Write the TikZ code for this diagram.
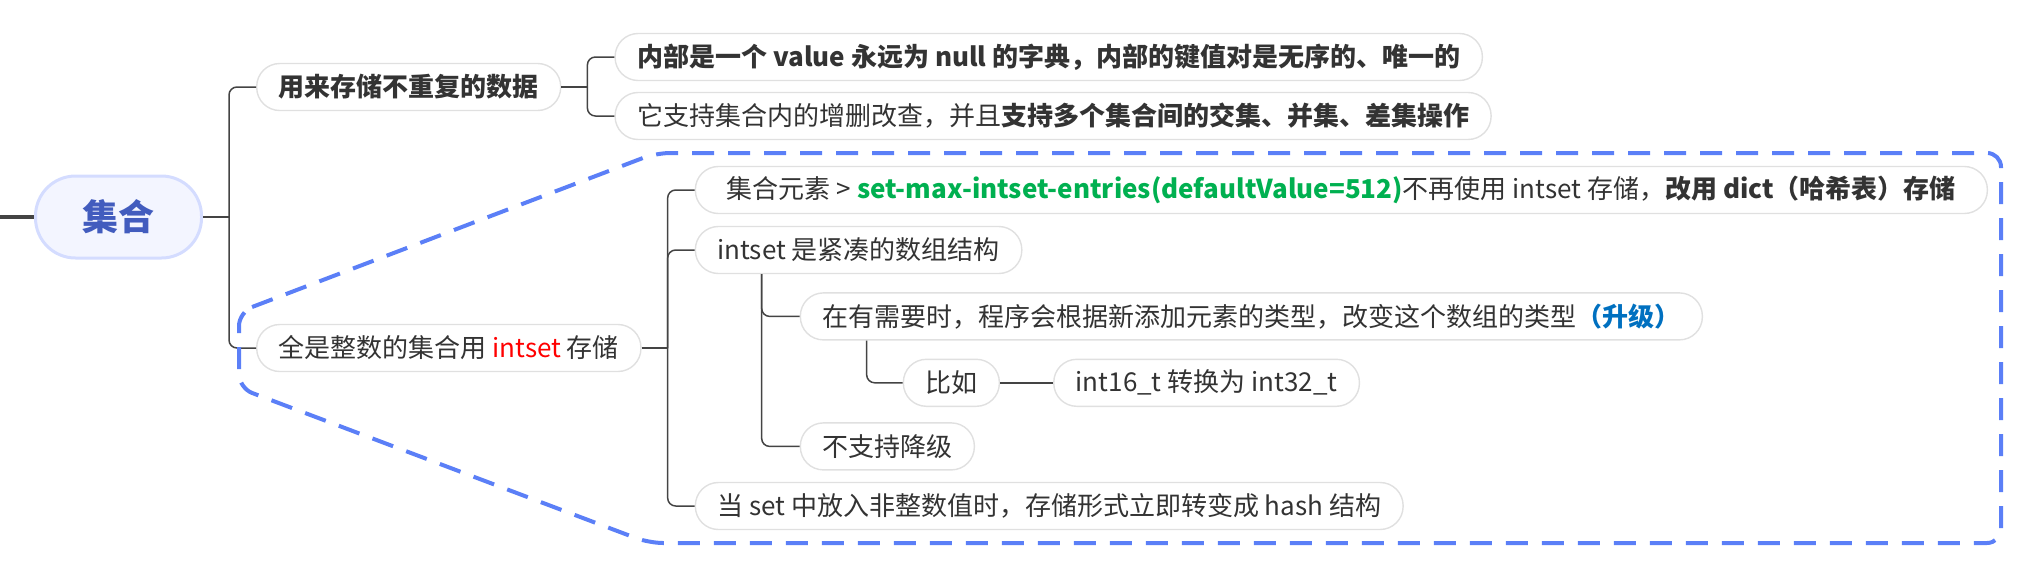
\documentclass[tikz,border=0pt]{standalone}
\usepackage{fontspec}
\setmainfont{Noto Sans CJK SC}
\usepackage{xcolor}
\usepackage{tikz}
\usetikzlibrary{positioning,calc}
\definecolor{rootblue}{RGB}{66,92,190}
\definecolor{rootfill}{RGB}{243,245,255}
\definecolor{rootline}{RGB}{212,220,255}
\definecolor{boxline}{RGB}{224,224,224}
\definecolor{linkgray}{RGB}{68,68,68}
\definecolor{txtgray}{RGB}{51,51,51}
\definecolor{hullblue}{RGB}{91,127,247}
\definecolor{keyred}{RGB}{255,0,0}
\definecolor{keygreen}{RGB}{0,176,80}
\definecolor{keyblue}{RGB}{0,112,192}
\tikzset{
  rootnode/.style={draw=rootline, line width=1.5pt, fill=rootfill, rounded corners=20pt,
                   minimum width=83pt, minimum height=41pt, inner sep=0pt,
                   font=\fontsize{18}{21}\selectfont\bfseries, text=rootblue},
  topic/.style={draw=boxline, line width=0.7pt, fill=white, rounded corners=11.5pt,
                minimum height=23.5pt, inner xsep=11pt, inner ysep=2pt,
                font=\fontsize{13}{15}\selectfont, text=txtgray},
  link/.style={linkgray, line width=0.75pt, rounded corners=4pt},
  stemline/.style={linkgray, line width=1.6pt},
  hull/.style={hullblue, line width=2pt, dash pattern=on 11pt off 7pt, rounded corners=7pt}
}
\begin{document}
\begin{tikzpicture}[x=0.5pt, y=-0.5pt, node distance=26.5pt]
    \useasboundingbox (0,0) rectangle (2029,563);
    \node[rootnode] (set) at (118.5,217) {集合};
    \coordinate (stem) at (0,217);
    \draw[stemline] (stem) -- (set.west);
    % first level
    \node[topic, right=of set, yshift=65pt] (store) {\textbf{用来存储不重复的数据}};
    \node[topic, right=of set, yshift=-65.5pt] (whole) {全是整数的集合用 \textcolor{keyred}{intset} 存储};
    \draw[link] (set.east) -- ++(13pt,0) coordinate (set-fork);
    \foreach \c in {store,whole} \draw[link] (set-fork) |- (\c.west);
    % store branch
    \node[topic, right=of store, yshift=15pt] (dict) {\textbf{内部是一个 value 永远为 null 的字典，内部的键值对是无序的、唯一的}};
    \node[topic, right=of store, yshift=-14.5pt] (ops) {它支持集合内的增删改查，并且\textbf{支持多个集合间的交集、并集、差集操作}};
    \draw[link] (store.east) -- ++(13pt,0) coordinate (store-fork);
    \foreach \c in {dict,ops} \draw[link] (store-fork) |- (\c.west);
    % intset branch
    \node[topic, right=of whole, yshift=79pt, minimum width=646pt] (limit) {集合元素 > \textcolor{keygreen}{\textbf{set-max-intset-entries(defaultValue=512)}}不再使用 intset 存储，\textbf{改用 dict（哈希表）存储}};
    \node[topic, right=of whole, yshift=49pt] (compact) {intset 是紧凑的数组结构};
    \node[topic, right=of whole, yshift=-79pt] (hash) {当 set 中放入非整数值时，存储形式立即转变成 hash 结构};
    \draw[link] (whole.east) -- ++(13pt,0) coordinate (whole-fork);
    \foreach \c in {limit,compact,hash} \draw[link] (whole-fork) |- (\c.west);
    \node[topic, below right=9pt and 52.5pt of compact.south west] (upgrade) {在有需要时，程序会根据新添加元素的类型，改变这个数组的类型\textbf{\textcolor{keyblue}{（升级）}}};
    \node[topic, below right=74pt and 52.5pt of compact.south west] (nodown) {不支持降级};
    \draw[link] ([xshift=33.5pt]compact.south west) |- (upgrade.west);
    \draw[link] ([xshift=33.5pt]compact.south west) |- (nodown.west);
    \node[topic, below right=9pt and 51.5pt of upgrade.south west] (eg) {比如};
    \node[topic, right=of eg] (conv) {int16\_t 转换为 int32\_t};
    \draw[link] ([xshift=33.5pt]upgrade.south west) |- (eg.west);
    \draw[link] (eg) -- (conv);
    % dashed outline round the intset branch
    \draw[hull] (239,312) -- (656,153) -- (2001,153) -- (2001,543) -- (649,543) -- (239,388) -- cycle;
\end{tikzpicture}
\end{document}
